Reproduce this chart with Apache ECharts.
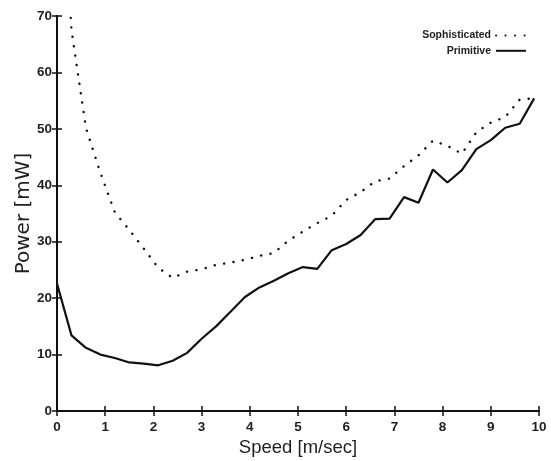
<!DOCTYPE html>
<html>
<head>
<meta charset="utf-8">
<script src="https://cdn.jsdelivr.net/npm/echarts@6/dist/echarts.min.js"></script>
<style>
  html, body { margin: 0; padding: 0; background: #fff; }
  #chart { width: 551px; height: 461px; }
</style>
</head>
<body>
<div id="chart"></div>
<script>
// Speed samples [m/sec]
const speed = [0, 0.3, 0.6, 0.9, 1.2, 1.5, 1.8, 2.1, 2.4, 2.7, 3.0, 3.3, 3.6, 3.9, 4.2, 4.5, 4.8,
               5.1, 5.4, 5.7, 6.0, 6.3, 6.6, 6.9, 7.2, 7.5, 7.8, 8.1, 8.4, 8.7, 9.0, 9.3, 9.6, 9.9];

// Power [mW] of the sophisticated scheme (first value lies above the axis range)
const sophisticated = [110, 67.5, 50.2, 42.2, 35.2, 32.1, 28.8, 25.4, 23.6, 24.7, 25.1, 25.9, 26.3, 26.8,
                       27.5, 28.0, 30.2, 31.8, 33.3, 34.6, 37.4, 38.8, 40.7, 41.2, 43.4, 45.3, 47.9,
                       47.0, 45.6, 49.4, 51.1, 52.1, 55.2, 55.4];

// Power [mW] of the primitive scheme
const primitive = [22.6, 13.4, 11.2, 10.0, 9.4, 8.6, 8.4, 8.1, 8.9, 10.3, 12.8, 15.0, 17.6, 20.2,
                   21.9, 23.1, 24.4, 25.5, 25.2, 28.5, 29.6, 31.2, 34.0, 34.1, 37.9, 36.9, 42.8,
                   40.5, 42.7, 46.4, 48.0, 50.2, 50.9, 55.4];

const seriesNames = ['Sophisticated', 'Primitive'];

const pairs = (ys) => speed.map((x, i) => [x, ys[i]]);

const ink = '#1e1e24';
const sans = '"Liberation Sans", Arial, sans-serif';
const tickFont = { fontFamily: sans, fontSize: 13.5, fontWeight: 'bold', color: ink };

const frameAxis = { lineStyle: { color: '#111', width: 2 } };
const innerTick = { show: true, inside: true, length: 5, lineStyle: { color: '#111', width: 1.5 } };

const chart = echarts.init(document.getElementById('chart'), null, { renderer: 'canvas' });

chart.setOption({
  animation: false,
  backgroundColor: '#fff',
  grid: { left: 57, right: 12, top: 16, bottom: 50, outerBoundsMode: 'none' },
  legend: {
    orient: 'vertical',
    right: 19,
    top: 25,
    align: 'right',
    itemWidth: 30,
    itemHeight: 14,
    itemGap: 4,
    data: seriesNames,
    // only the line sample is shown, no marker in its middle
    itemStyle: { opacity: 0, borderWidth: 0, color: 'transparent' },
    textStyle: {
      fontFamily: sans,
      fontWeight: 'bold',
      fontSize: 10.5,
      color: ink
    }
  },
  xAxis: [
    {
      type: 'value', min: 0, max: 10, interval: 1, position: 'bottom',
      name: 'Speed [m/sec]', nameLocation: 'middle', nameGap: 25,
      nameTextStyle: { fontFamily: sans, fontSize: 18.5, color: ink },
      axisLine: frameAxis, axisTick: innerTick,
      axisLabel: Object.assign({ margin: 9 }, tickFont),
      splitLine: { show: false }
    },
    {
      type: 'value', min: 0, max: 10, interval: 1, position: 'top',
      axisLine: frameAxis, axisTick: innerTick,
      axisLabel: { show: false }, splitLine: { show: false }
    }
  ],
  yAxis: [
    {
      type: 'value', min: 0, max: 70, interval: 10, position: 'left',
      name: 'Power [mW]', nameLocation: 'middle', nameGap: 23, nameRotate: 90,
      nameMoveOverlap: false,
      nameTextStyle: { fontFamily: '"DejaVu Sans", sans-serif', fontSize: 20, color: ink },
      axisLine: frameAxis, axisTick: innerTick,
      axisLabel: Object.assign({ margin: 5 }, tickFont),
      splitLine: { show: false }
    },
    {
      type: 'value', min: 0, max: 70, interval: 10, position: 'right',
      axisLine: frameAxis, axisTick: innerTick,
      axisLabel: { show: false }, splitLine: { show: false }
    }
  ],
  series: [
    {
      name: seriesNames[0],
      type: 'line',
      data: pairs(sophisticated),
      symbol: 'none',
      clip: true,
      color: '#111',
      lineStyle: { color: '#111', width: 2.4, type: [0.1, 9.4], cap: 'round' }
    },
    {
      name: seriesNames[1],
      type: 'line',
      data: pairs(primitive),
      symbol: 'none',
      clip: true,
      color: '#111',
      lineStyle: { color: '#111', width: 2.2 }
    }
  ]
});
</script>
</body>
</html>
